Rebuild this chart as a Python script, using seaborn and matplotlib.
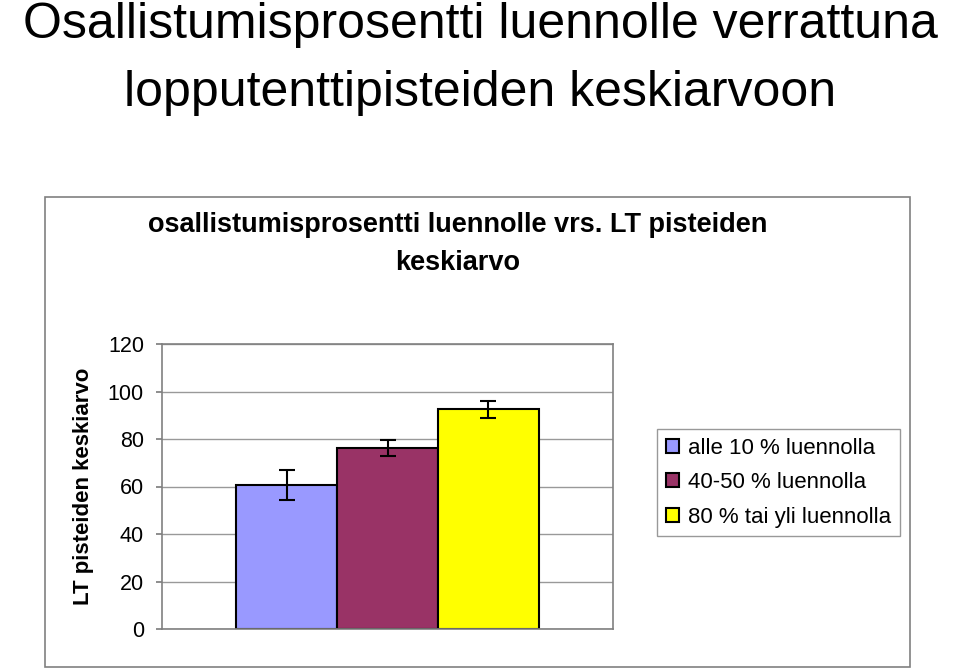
import pandas as pd
import numpy as np
import seaborn as sns
import matplotlib.pyplot as plt
from matplotlib.patches import Rectangle

# Data
groups = ['alle 10 % luennolla', '40-50 % luennolla', '80 % tai yli luennolla']
means = [60.5, 76.2, 92.5]
errors = [6.3, 3.2, 3.6]
colors = ['#9999FF', '#993366', '#FFFF00']
yticks = [0, 20, 40, 60, 80, 100, 120]

df = pd.DataFrame({'cat': [''] * 3, 'group': groups, 'mean': means})

sns.set_theme(style='white')
plt.rcParams['font.family'] = ['Liberation Sans', 'DejaVu Sans']
plt.rcParams['text.color'] = 'black'
plt.rcParams['axes.labelcolor'] = 'black'
plt.rcParams['ytick.color'] = 'black'

fig = plt.figure(figsize=(9.6, 6.69), dpi=100)
fig.patch.set_facecolor('white')

# Outer chart box
fig.patches.append(Rectangle((45 / 960, 1 - 667 / 669), 865 / 960, 470 / 669,
                             transform=fig.transFigure, fill=False,
                             edgecolor='#808080', linewidth=1.2))

ax = fig.add_axes([162 / 960, 1 - 629 / 669, 451 / 960, 285 / 669])
sns.barplot(data=df, x='cat', y='mean', hue='group', palette=colors,
            width=0.67, errorbar=None, edgecolor='black', linewidth=1.5,
            ax=ax, legend=True, saturation=1)
ax.set_xlim(-0.5, 0.5)

# Error bars at bar centres
for patch, m, e in zip(ax.patches[:3], means, errors):
    ax.errorbar(patch.get_x() + patch.get_width() / 2, m, yerr=e,
                color='black', capsize=6, elinewidth=1.5, capthick=1.5)

ax.set_ylim(0, 120)
ax.set_yticks(yticks)
ax.set_yticklabels([str(t) for t in yticks], fontsize=15.5)
ax.set_xticks([])
ax.set_xlabel('')
ax.grid(axis='y', color='#999999', linewidth=1)
ax.set_axisbelow(True)
for s in ax.spines.values():
    s.set_color('#808080')
    s.set_linewidth(1.2)
ax.tick_params(axis='y', left=True, length=4, color='#808080', pad=9)

ax.set_ylabel('LT pisteiden keskiarvo', fontsize=16, fontweight='bold')
ax.yaxis.set_label_coords(-0.15, 0.5)

handles, labels = ax.get_legend_handles_labels()
ax.legend(handles, labels, loc='upper left',
          bbox_to_anchor=(657 / 960, 1 - 429 / 669),
          bbox_transform=fig.transFigure, fontsize=16, frameon=True,
          fancybox=False, edgecolor='#808080', handlelength=0.6,
          handleheight=0.6, handletextpad=0.4, labelspacing=0.6,
          borderpad=0.4, borderaxespad=0)

# Titles
fig.text(0.5, 1 - 38 / 669, 'Osallistumisprosentti luennolle verrattuna',
         ha='center', va='baseline', fontsize=36)
fig.text(0.5, 1 - 106 / 669, 'lopputenttipisteiden keskiarvoon',
         ha='center', va='baseline', fontsize=36)
fig.text(458 / 960, 1 - 244 / 669,
         'osallistumisprosentti luennolle vrs. LT pisteiden\nkeskiarvo',
         ha='center', va='center', fontsize=19.5, fontweight='bold',
         linespacing=1.55)

fig.savefig('out.png', dpi=100)
